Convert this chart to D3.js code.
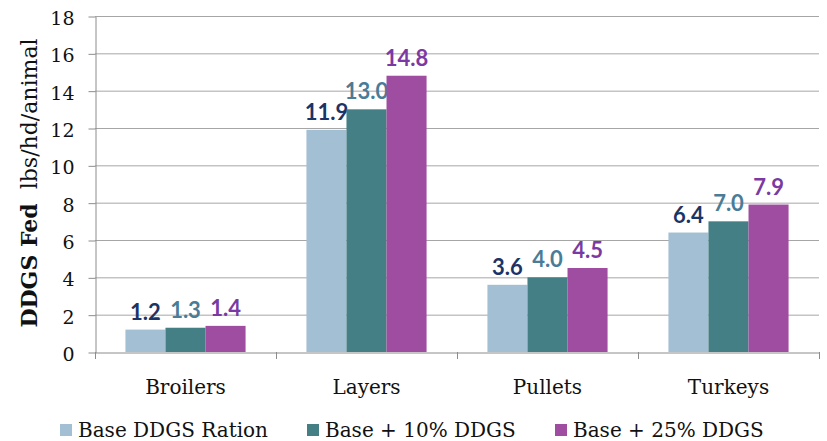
<!DOCTYPE html>
<html>
<head>
<meta charset="utf-8">
<script src="https://cdn.jsdelivr.net/npm/d3@7"></script>
<style>
  body { margin: 0; background: #fff; }
  svg { display: block; }
</style>
</head>
<body>
<div id="chart"></div>
<script>
"use strict";

// data
var categories = ["Broilers", "Layers", "Pullets", "Turkeys"];
var seriesNames = ["Base DDGS Ration", "Base + 10% DDGS", "Base + 25% DDGS"];
var baseRation = [1.2, 11.9, 3.6, 6.4];
var base10 = [1.3, 13.0, 4.0, 7.0];
var base25 = [1.4, 14.8, 4.5, 7.9];
var yTicks = [0, 2, 4, 6, 8, 10, 12, 14, 16, 18];

var barColors = ["#A2BFD3", "#437F84", "#9E4DA0"];
var labelColors = ["#1B3468", "#4A7C98", "#7A39A3"];

var W = 827, H = 441;
var plotLeft = 95, plotRight = 819, plotTop = 16, plotBottom = 352;

var svg = d3.select("#chart").append("svg")
  .attr("width", W).attr("height", H);

var x = d3.scaleBand().domain(categories).range([plotLeft, plotRight]).paddingInner(0).paddingOuter(0);
var y = d3.scaleLinear().domain([0, 18]).range([plotBottom, plotTop]);

var series = [baseRation, base10, base25];
var inner = d3.scaleBand().domain([0, 1, 2]).range([0, x.bandwidth()]).paddingOuter(0.76).paddingInner(0);

// gridlines
svg.append("g").selectAll("line")
  .data(yTicks.filter(function(d) { return d > 0; }))
  .enter().append("line")
  .attr("x1", plotLeft).attr("x2", plotRight)
  .attr("y1", function(d) { return y(d) + 0.5; })
  .attr("y2", function(d) { return y(d) + 0.5; })
  .attr("stroke", "#a6a6a6").attr("stroke-width", 1);

// y axis
var yAxis = d3.axisLeft(y).tickValues(yTicks).tickSize(7).tickSizeOuter(0).tickPadding(14);
var gy = svg.append("g").attr("transform", "translate(" + (plotLeft + 0.5) + ",0.5)").call(yAxis);
gy.select(".domain").attr("stroke", "#8c8c8c");
gy.selectAll(".tick line").attr("stroke", "#8c8c8c");
gy.selectAll(".tick text")
  .attr("font-family", "'DejaVu Serif', serif")
  .attr("font-size", "19px").attr("fill", "#111")
  .attr("dy", "0.42em");

// bars
series.forEach(function(vals, s) {
  var g = svg.append("g");
  g.selectAll("rect").data(vals).enter().append("rect")
    .attr("x", function(d, i) { return x(categories[i]) + inner(s); })
    .attr("width", inner.bandwidth())
    .attr("y", function(d) { return y(d); })
    .attr("height", function(d) { return y(0) - y(d); })
    .attr("fill", barColors[s]);
  g.selectAll("text").data(vals).enter().append("text")
    .attr("x", function(d, i) { return x(categories[i]) + inner(s) + inner.bandwidth() / 2; })
    .attr("y", function(d) { return y(d) - 10; })
    .attr("text-anchor", "middle")
    .attr("font-family", "Lato, 'Open Sans', sans-serif")
    .attr("font-weight", "bold")
    .attr("font-size", "22px")
    .attr("fill", labelColors[s])
    .text(function(d) { return d.toFixed(1); });
});

// x axis
var xAxis = d3.axisBottom(x).tickSize(0).tickPadding(27);
var gx = svg.append("g").attr("transform", "translate(0," + (plotBottom + 0.5) + ")").call(xAxis);
gx.select(".domain").attr("stroke", "#8c8c8c");
gx.selectAll(".tick text")
  .attr("font-family", "'DejaVu Serif', serif")
  .attr("font-size", "20px").attr("fill", "#111");
// category dividers
var bounds = categories.map(function(c) { return x(c); }).concat([plotRight]);
svg.append("g").selectAll("line").data(bounds).enter().append("line")
  .attr("x1", function(d) { return Math.round(d) + 0.5; })
  .attr("x2", function(d) { return Math.round(d) + 0.5; })
  .attr("y1", plotBottom).attr("y2", plotBottom + 7)
  .attr("stroke", "#8c8c8c");

// y title
var yt = svg.append("text")
  .attr("transform", "translate(37,183) rotate(-90)")
  .attr("text-anchor", "middle")
  .attr("font-family", "'DejaVu Serif', serif")
  .attr("font-size", "22px").attr("fill", "#111");
yt.append("tspan").attr("font-weight", "bold").text("DDGS Fed");
yt.append("tspan").attr("dx", 14).text("lbs/hd/animal");

// legend
var legendX = [60, 307, 555];
var lg = svg.append("g").selectAll("g").data(seriesNames).enter().append("g")
  .attr("transform", function(d, i) { return "translate(" + legendX[i] + ",424)"; });
lg.append("rect").attr("width", 12).attr("height", 12)
  .attr("fill", function(d, i) { return barColors[i]; });
lg.append("text").attr("x", 18).attr("y", 13)
  .attr("font-family", "'DejaVu Serif', serif")
  .attr("font-size", "20px").attr("fill", "#111")
  .text(function(d) { return d; });
</script>
</body>
</html>
